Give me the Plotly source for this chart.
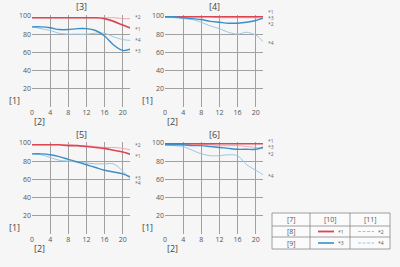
import plotly.graph_objects as go

# ---------------- data ----------------
x_pos = [0, 2, 4, 6, 8, 10, 12, 14, 16, 18, 20, 22]

# panel [3]
p3_s1 = [98, 98, 98, 98, 98, 98, 98, 98, 97, 94, 90, 86]
p3_s2 = [98, 98, 98, 98, 98, 98, 98, 98, 98, 98, 97, 97]
p3_s3 = [88, 88, 87, 85, 85, 86, 86, 84, 78, 68, 62, 64]
p3_s4 = [88, 86, 84, 81, 80, 80, 80, 81, 81, 77, 74, 73]

# panel [4]
p4_s1 = [99, 99, 99, 99, 99, 99, 99, 99, 99, 99, 99, 99]
p4_s2 = [99, 99, 99, 99, 99, 99, 98, 98, 98, 98, 98, 97]
p4_s3 = [99, 99, 98, 97, 96, 94, 93, 92, 92, 93, 95, 98]
p4_s4 = [99, 98, 97, 96, 93, 89, 86, 82, 80, 82, 79, 70]

# panel [5]
p5_s1 = [98, 98, 98, 98, 97, 97, 96, 95, 94, 92, 90, 87]
p5_s2 = [98, 98, 98, 98, 98, 97, 97, 96, 95, 95, 94, 92]
p5_s3 = [88, 88, 87, 85, 82, 79, 76, 73, 70, 68, 66, 62]
p5_s4 = [88, 87, 84, 81, 80, 79, 78, 77, 77, 77, 69, 58]

# panel [6]
p6_s1 = [99, 99, 99, 99, 99, 99, 99, 99, 99, 99, 99, 99]
p6_s2 = [99, 99, 99, 98, 98, 98, 97, 97, 97, 96, 95, 93]
p6_s3 = [98, 98, 98, 97, 97, 96, 95, 94, 93, 93, 93, 96]
p6_s4 = [98, 97, 96, 92, 88, 86, 86, 87, 86, 76, 70, 64]

panel_titles = ["[3]", "[4]", "[5]", "[6]"]
series_names = ["*1", "*2", "*3", "*4"]
y_axis_label = "[1]"
x_axis_label = "[2]"
table_header = ["[7]", "[10]", "[11]"]
table_rows = ["[8]", "[9]"]
x_ticks = [0, 4, 8, 12, 16, 20]
y_ticks = [20, 40, 60, 80, 100]

panels = [
    [p3_s1, p3_s2, p3_s3, p3_s4],
    [p4_s1, p4_s2, p4_s3, p4_s4],
    [p5_s1, p5_s2, p5_s3, p5_s4],
    [p6_s1, p6_s2, p6_s3, p6_s4],
]

# ---------------- style ----------------
W, H = 400, 267
BG = "#f6f6f6"
FONT = "Open Sans"
colors = ["#dc4552", "#f2a5ad", "#3d8ec6", "#97c8e3"]
widths = [1.6, 1.0, 1.4, 1.0]

# pixel boxes: (x0, x1, ytop, ybottom)
boxes = [
    (32, 130, 15, 107),
    (165, 263, 15, 107),
    (32, 130, 142, 234),
    (165, 263, 142, 234),
]
label_shift = [
    [0, 2, -2, 1],
    [5, -5, 0, 0],
    [-1, 5, 0, -2],
    [3, -5, 0, 0],
]


def px(x):
    return x / W


def py(y):
    return 1 - y / H


fig = go.Figure()
layout = dict(
    width=W, height=H,
    margin=dict(l=0, r=0, t=0, b=0, pad=0, autoexpand=False),
    paper_bgcolor=BG, plot_bgcolor=BG,
    showlegend=False,
    font=dict(family=FONT, color="#444"),
)
annotations = []
shapes = []


def ann(x, y, text, size, color="#444", xanchor="center", **kw):
    d = dict(x=x, y=y, text=text, showarrow=False, xanchor=xanchor, yanchor="middle",
             font=dict(size=size, color=color, family=FONT))
    d.update(kw)
    return d


for i, (box, data) in enumerate(zip(boxes, panels)):
    x0, x1, yt, yb = box
    xa = "xaxis" if i == 0 else f"xaxis{i+1}"
    ya = "yaxis" if i == 0 else f"yaxis{i+1}"
    xref = "x" if i == 0 else f"x{i+1}"
    yref = "y" if i == 0 else f"y{i+1}"
    layout[xa] = dict(
        domain=[px(x0), px(x1)], anchor=yref, range=[0, 21.6],
        tickvals=x_ticks, showgrid=True, gridcolor="#a0a0a0", gridwidth=0.7,
        zeroline=False, showline=False, ticks="", automargin=False,
        tickfont=dict(size=7, color="#555"),
    )
    layout[ya] = dict(
        domain=[py(yb), py(yt)], anchor=xref, range=[0, 101],
        tickvals=y_ticks, showgrid=True, gridcolor="#a0a0a0", gridwidth=0.7,
        zeroline=False, showline=False, ticks="", automargin=False,
        tickfont=dict(size=7, color="#555"),
    )
    for k in [1, 3, 0, 2]:
        fig.add_trace(go.Scatter(
            x=x_pos, y=data[k], mode="lines", xaxis=xref, yaxis=yref,
            line=dict(color=colors[k], width=widths[k], shape="spline", smoothing=0.8),
            cliponaxis=True, hoverinfo="skip",
        ))
    for k in range(4):
        annotations.append(ann(1, data[k][-1], series_names[k], 5, "#666", xanchor="left",
                               xref=f"{xref} domain", yref=yref,
                               xshift=3, yshift=label_shift[i][k]))
    annotations.append(ann(0.5, py(yt - 8), panel_titles[i], 9,
                           xref=f"{xref} domain", yref="paper"))
    annotations.append(ann(px(x0 - 18), py(yb - 7), y_axis_label, 9,
                           xref="paper", yref="paper"))
    annotations.append(ann(px(x0 + 7), py(yb + 14), x_axis_label, 9,
                           xref="paper", yref="paper"))

# ---------------- legend table ----------------
tx0, tx1, ty0, ty1 = 272, 390, 213, 249
cols = [272, 310, 350, 390]
rows = [213, 226, 237, 249]

shapes.append(dict(type="rect", xref="paper", yref="paper",
                   x0=px(tx0), x1=px(tx1), y0=py(ty1), y1=py(ty0),
                   line=dict(color="#888", width=0.8), fillcolor="#fbfbfb", layer="below"))
for c in cols[1:-1]:
    shapes.append(dict(type="line", xref="paper", yref="paper",
                       x0=px(c), x1=px(c), y0=py(ty1), y1=py(ty0),
                       line=dict(color="#888", width=0.8)))
for r in rows[1:-1]:
    shapes.append(dict(type="line", xref="paper", yref="paper",
                       x0=px(tx0), x1=px(tx1), y0=py(r), y1=py(r),
                       line=dict(color="#888", width=0.8)))

for j, t in enumerate(table_header):
    annotations.append(ann(px((cols[j] + cols[j + 1]) / 2), py((rows[0] + rows[1]) / 2), t, 7,
                           "#555", xref="paper", yref="paper"))
for r, t in enumerate(table_rows):
    annotations.append(ann(px((cols[0] + cols[1]) / 2), py((rows[r + 1] + rows[r + 2]) / 2), t, 7,
                           "#555", xref="paper", yref="paper"))

legend_dash = ["solid", "3px,1.5px", "solid", "3px,1.5px"]
for k in range(4):
    r = k // 2
    c = k % 2
    yc = (rows[r + 1] + rows[r + 2]) / 2
    lx0 = cols[c + 1] + 8
    shapes.append(dict(type="line", xref="paper", yref="paper",
                       x0=px(lx0), x1=px(lx0 + 16), y0=py(yc), y1=py(yc),
                       line=dict(color=colors[k], width=widths[k] + 0.2, dash=legend_dash[k])))
    annotations.append(ann(px(lx0 + 18), py(yc), series_names[k], 5, "#555",
                           xanchor="left", xref="paper", yref="paper"))

layout["annotations"] = annotations
layout["shapes"] = shapes
fig.update_layout(**layout)
fig.write_html("out.html")
